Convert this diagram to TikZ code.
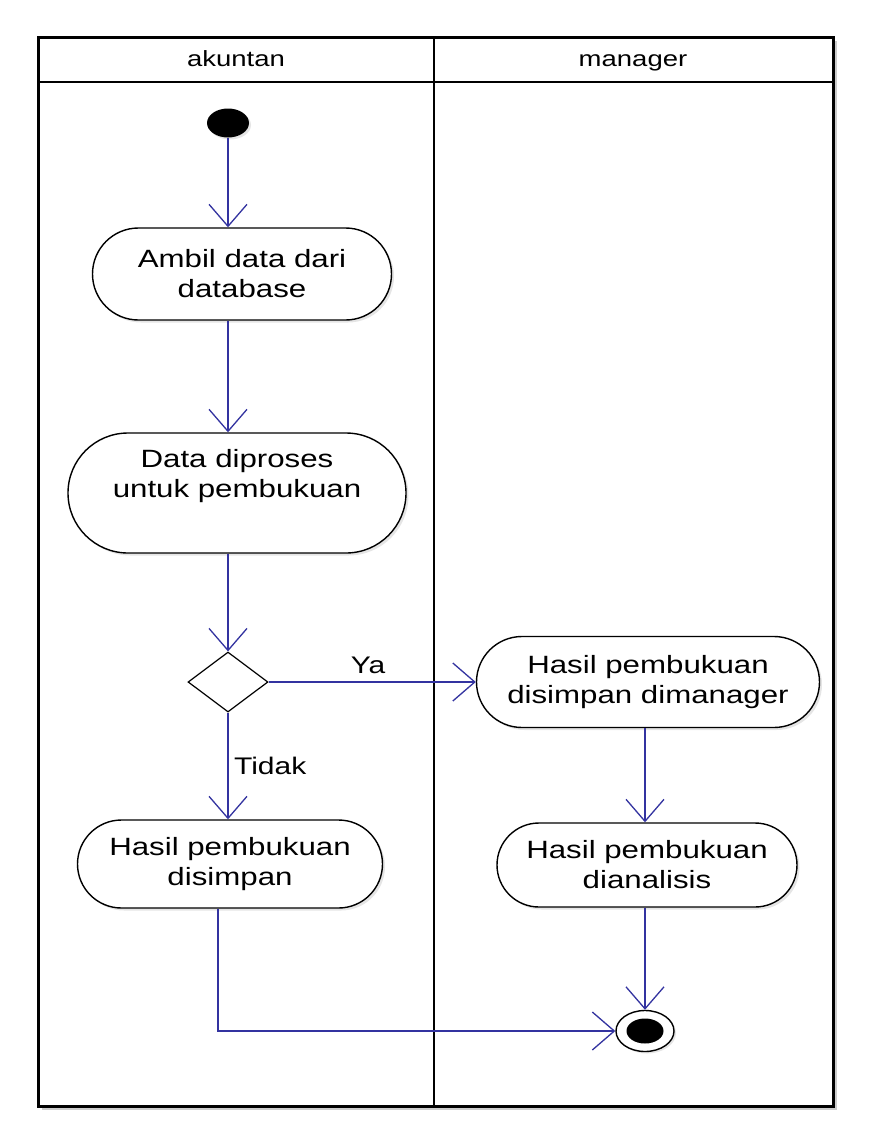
\documentclass[tikz,border=0pt]{standalone}
\usepackage{fontspec}
\setmainfont[FakeStretch=1.25]{Liberation Sans}
\usetikzlibrary{arrows.meta,shapes.geometric,shapes.misc,shadows}
\definecolor{flowblue}{RGB}{51,51,160}
\tikzset{
  activity/.style={draw=black, line width=1.4pt, fill=white, rounded rectangle, inner sep=0pt,
    align=center, font=\fontsize{25}{30}\selectfont,
    drop shadow={opacity=0.2, shadow xshift=2.5pt, shadow yshift=-2.5pt}},
  decision/.style={draw=black, line width=1.2pt, fill=white, diamond, aspect=1.333, inner sep=0pt},
  flow/.style={draw=flowblue, line width=1.5pt, -{Straight Barb[length=22pt,width=38pt,line width=1.3pt]}},
  lane/.style={draw=black, line width=2.5pt},
  lanetitle/.style={font=\fontsize{22}{26}\selectfont, anchor=base},
  guard/.style={font=\fontsize{24}{28}\selectfont}
}
\begin{document}
\begin{tikzpicture}[x=1pt,y=-1pt]
\useasboundingbox (0,0) rectangle (880,1144);
% swimlane frame
\fill[black!20] (42,41) rectangle (837,1110);
\fill[white] (38,37) rectangle (833,1106);
\draw[lane, line width=3pt] (38,37) rectangle (833,1106);
\draw[lane, line width=2.2pt] (38,82) -- (833,82);
\draw[lane] (434,37) -- (434,1106);
\node[lanetitle] (lane1) at (236,66) {akuntan};
\node[lanetitle] (lane2) at (633,66) {manager};
% nodes
\node[ellipse, fill=black, minimum width=42pt, minimum height=29pt, inner sep=0pt,
  drop shadow={opacity=0.2, shadow xshift=2pt, shadow yshift=-2pt}] (start) at (228,123) {};
\node[activity, minimum width=299pt, minimum height=92pt] (ambil) at (242,274) {Ambil data dari\\database};
\node[activity, minimum width=338pt, minimum height=120pt] (proses) at (237,493) {Data diproses\\untuk pembukuan\\\strut};
\node[decision, minimum width=80pt, minimum height=60pt] (dec) at (228,682) {};
\node[activity, minimum width=305pt, minimum height=88pt] (simpan) at (230,864) {Hasil pembukuan\\disimpan};
\node[activity, minimum width=343pt, minimum height=91pt] (mgr) at (648,682) {Hasil pembukuan\\disimpan dimanager};
\node[activity, minimum width=300pt, minimum height=84pt] (analisis) at (647,865) {Hasil pembukuan\\dianalisis};
\node[ellipse, draw=black, line width=1.4pt, fill=white, minimum width=58pt, minimum height=41pt, inner sep=0pt,
  drop shadow={opacity=0.2, shadow xshift=2pt, shadow yshift=-2pt}] (end) at (645,1031) {};
\node[ellipse, fill=black, minimum width=37pt, minimum height=25pt, inner sep=0pt] (endin) at (645,1031) {};
% connectors
\draw[flow] (start) -- (start |- ambil.north);
\draw[flow] (start |- ambil.south) -- (start |- proses.north);
\draw[flow] (start |- proses.south) -- (dec.north);
\draw[flow] (dec.east) -- (mgr.west) node[guard, pos=0.48, above=4pt] (ya) {Ya};
\draw[flow] (dec.south) -- (dec |- simpan.north) node[guard, pos=0.5, right=2pt] (tidak) {Tidak};
\draw[flow] (end |- mgr.south) -- (end |- analisis.north);
\draw[flow] (end |- analisis.south) -- (end.north);
\coordinate (bend) at ([xshift=-12pt]simpan.south);
\draw[flow] (bend) |- (end.west);
\end{tikzpicture}
\end{document}
